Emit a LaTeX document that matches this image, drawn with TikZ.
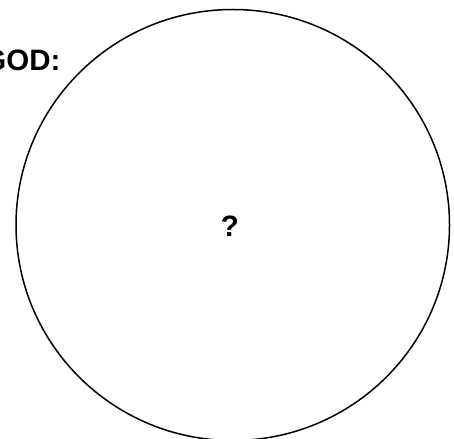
\documentclass[tikz,border=0pt]{standalone}
\usepackage{fontspec}
\setmainfont{Liberation Sans}
\usetikzlibrary{shapes.geometric}
\begin{document}
\begin{tikzpicture}[x=1pt,y=-1pt,
  lbl/.style={font=\fontsize{29.5}{33}\selectfont\bfseries, inner sep=0pt},
  bigcirc/.style={draw, ellipse, line width=1.5pt, inner sep=0pt, minimum width=433.5pt, minimum height=431pt}]
\useasboundingbox (0,0) rectangle (454,438);
\clip (0,0) rectangle (454,438);
\node[bigcirc] (world) at (232.75,225) {};
\node[lbl, anchor=base west] (god) at (-16.8,70.5) {GOD:};
\node[lbl, anchor=base] (q) at (230,236.5) {?};
\end{tikzpicture}
\end{document}
